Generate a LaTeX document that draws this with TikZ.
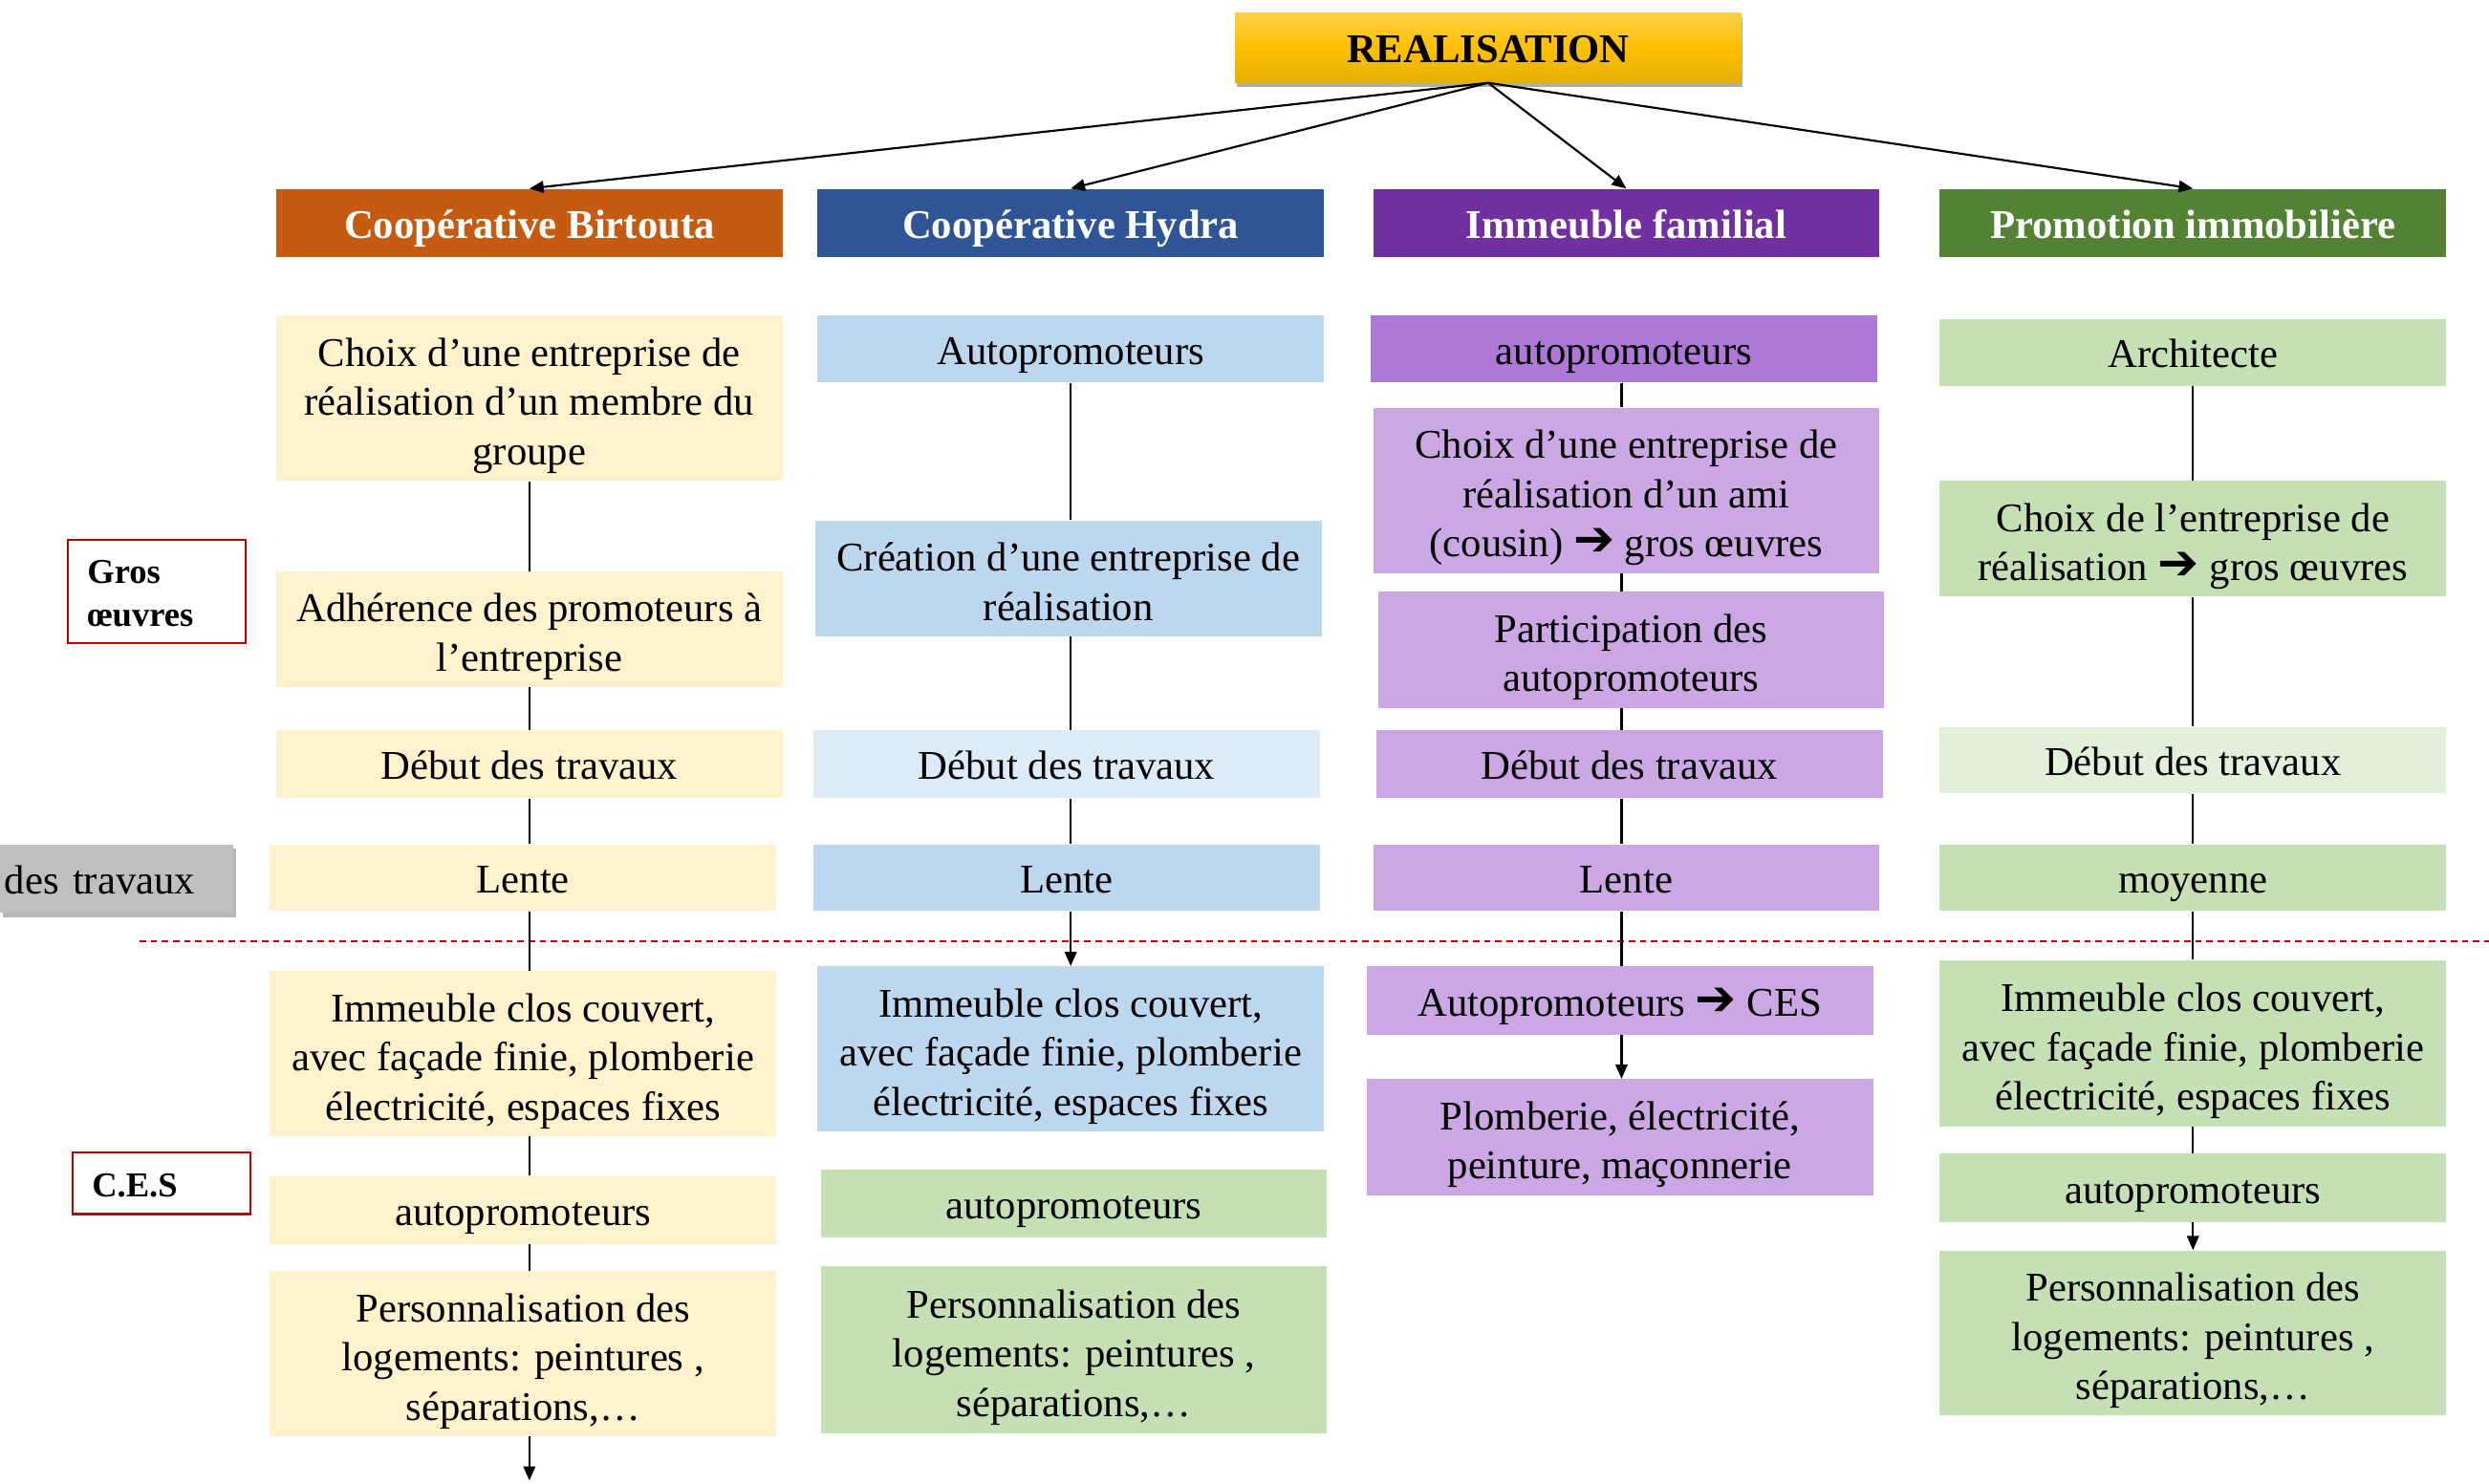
\documentclass[tikz,border=0pt]{standalone}
\usepackage{fontspec}
\setmainfont{Liberation Serif}
\newfontfamily\dingfont{DejaVu Sans Bold}
\usetikzlibrary{arrows.meta,shadows,calc}

\definecolor{goldtop}{HTML}{FFCF4A}
\definecolor{goldmid}{HTML}{FFC000}
\definecolor{goldbot}{HTML}{E6AF00}
\definecolor{hdorange}{HTML}{C55A11}
\definecolor{hdblue}{HTML}{2F5597}
\definecolor{hdpurple}{HTML}{7030A0}
\definecolor{hdgreen}{HTML}{548235}
\definecolor{cyellow}{HTML}{FFF2CC}
\definecolor{cblue}{HTML}{BDD7EE}
\definecolor{cbluelight}{HTML}{DDEBF7}
\definecolor{cpurpledark}{HTML}{AD78D6}
\definecolor{cpurple}{HTML}{CBA7E3}
\definecolor{cgreen}{HTML}{C5E0B4}
\definecolor{cgreenlight}{HTML}{E2EFDA}
\definecolor{tagred}{HTML}{C00000}
\definecolor{tabgray}{HTML}{BFBFBF}

% heavy arrow used inside the texts
\newcommand{\goes}{\raisebox{0.5pt}{\dingfont\fontsize{31}{31}\selectfont ➔}}
% struts with the ascent and descent of the serif face (plus extra leading on top)
\newcommand{\topstrut}[1]{\rule[-0.216em]{0pt}{\dimexpr1.107em+#1\relax}}
\newcommand{\lstrut}{\rule[-0.216em]{0pt}{1.107em}}
% taller first line of the multi-line boxes
\newcommand{\fs}{\rule{0pt}{\dimexpr0.891em+4.5pt\relax}}

\tikzset{
  cell/.style={inner sep=0pt, minimum width=319pt, align=center,
    font=\fontsize{25.7}{31}\selectfont, text=black,
    execute at begin node=\topstrut{2pt}, execute at end node=\lstrut},
  head/.style={cell, text=white, font=\bfseries\fontsize{25.7}{31}\selectfont,
    minimum height=43pt},
  link/.style={line width=1.3pt, black},
  flow/.style={link, -{Triangle[length=9pt,width=7.5pt]}},
  tag/.style={draw=tagred, line width=1.3pt, fill=white, inner xsep=12pt,
    inner ysep=0pt, text width=88pt, align=left,
    font=\bfseries\fontsize{22}{27}\selectfont,
    execute at begin node=\topstrut{2pt}, execute at end node=\lstrut},
}

\begin{document}
\begin{tikzpicture}[x=1pt,y=-1pt]
\useasboundingbox (0,0) rectangle (1568,935);
\fill[white] (0,0) rectangle (1568,935);
\clip (0,0) rectangle (1568,935);

% separator between the two phases
\coordinate (sepL) at (88,593);
\coordinate (sepR) at (1568,593);
\draw[tagred, line width=0.9pt, dash pattern=on 4pt off 3pt] (sepL) -- (sepR);

% title
\node[cell, minimum height=44pt, top color=goldtop, bottom color=goldbot,
  middle color=goldmid, font=\bfseries\fontsize{25.7}{31}\selectfont,
  drop shadow={shadow xshift=1pt, shadow yshift=-3pt, fill=black!45, opacity=0.7}]
  (real) at (937.5,30) {REALISATION};

% column headers
\node[head, fill=hdorange] (h1) at (333.5,140.5) {Coopérative Birtouta};
\node[head, fill=hdblue]   (h2) at (674.5,140.5) {Coopérative Hydra};
\node[head, fill=hdpurple] (h3) at (1024.5,140.5) {Immeuble familial};
\node[head, fill=hdgreen]  (h4) at (1381.5,140.5) {Promotion immobilière};

\foreach \h in {h1,h2,h3,h4} \draw[flow] (real.south) -- (\h.north);

% side labels
\node[tag, minimum height=65pt] (gros) at (99,372.5) {Gros\\œuvres};
\node[tag, minimum height=39pt] (ces) at (102,745.5) {C.E.S};
\node[cell, fill=tabgray, minimum width=147pt, minimum height=43pt,
  text width=141pt, align=left, inner xsep=3pt,
  drop shadow={shadow xshift=2pt, shadow yshift=-3pt, fill=black!40, opacity=0.7}]
  (vitesse) at (73.5,553.5) {des travaux};

% column 1: Coopérative Birtouta
\node[cell, fill=cyellow, minimum height=104pt] (a1) at (333.5,251)
  {\fs Choix d’une entreprise de\\réalisation d’un membre du\\groupe};
\node[cell, fill=cyellow, minimum height=73pt] (a2) at (333.5,396.5)
  {\fs Adhérence des promoteurs à\\l’entreprise};
\node[cell, fill=cyellow, minimum height=43pt] (a3) at (333.5,481.5) {Début des travaux};
\node[cell, fill=cyellow, minimum height=42pt] (a4) at (329.5,553) {Lente};
\node[cell, fill=cyellow, minimum height=104pt] (a5) at (329.5,664)
  {\fs Immeuble clos couvert,\\avec façade finie, plomberie\\électricité, espaces fixes};
\node[cell, fill=cyellow, minimum height=43pt] (a6) at (329.5,762.5) {autopromoteurs};
\node[cell, fill=cyellow, minimum height=104pt] (a7) at (329.5,853)
  {\fs Personnalisation des\\logements: peintures ,\\séparations,…};
\coordinate (aend) at (333.5,933);

\draw[link] (a1.south) -- (a1.south |- a2.north);
\draw[link] (a2.south) -- (a2.south |- a3.north);
\draw[link] (a3.south) -- (a3.south |- a4.north);
\draw[link] (a3.south |- a4.south) -- (a3.south |- a5.north);
\draw[link] (a3.south |- a5.south) -- (a3.south |- a6.north);
\draw[link] (a3.south |- a6.south) -- (a3.south |- a7.north);
\draw[flow] (a3.south |- a7.south) -- (aend);

% column 2: Coopérative Hydra
\node[cell, fill=cblue, minimum height=42pt] (b1) at (674.5,220) {Autopromoteurs};
\node[cell, fill=cblue, minimum height=73pt] (b2) at (673,364.5)
  {\fs Création d’une entreprise de\\réalisation};
\node[cell, fill=cbluelight, minimum height=43pt] (b3) at (672,481.5) {Début des travaux};
\node[cell, fill=cblue, minimum height=42pt] (b4) at (672,553) {Lente};
\node[cell, fill=cblue, minimum height=104pt] (b5) at (674.5,661)
  {\fs Immeuble clos couvert,\\avec façade finie, plomberie\\électricité, espaces fixes};
\node[cell, fill=cgreen, minimum height=43pt] (b6) at (676.5,758.5) {autopromoteurs};
\node[cell, fill=cgreen, minimum height=105pt] (b7) at (676.5,850.5)
  {\fs Personnalisation des\\logements: peintures ,\\séparations,…};

\draw[link] (b1.south) -- (b1.south |- b2.north);
\draw[link] (b1.south |- b2.south) -- (b1.south |- b3.north);
\draw[link] (b1.south |- b3.south) -- (b1.south |- b4.north);
\draw[flow] (b1.south |- b4.south) -- (b1.south |- b5.north);

% column 3: Immeuble familial
\node[cell, fill=cpurpledark, minimum height=42pt] (c1) at (1023,220) {autopromoteurs};
\node[cell, fill=cpurple, minimum height=104pt] (c2) at (1024.5,309)
  {\fs Choix d’une entreprise de\\réalisation d’un ami\\(cousin) \goes{} gros œuvres};
\node[cell, fill=cpurple, minimum height=73pt] (c3) at (1027.5,409.5)
  {\fs Participation des\\autopromoteurs};
\node[cell, fill=cpurple, minimum height=43pt] (c4) at (1026.5,481.5) {Début des travaux};
\node[cell, fill=cpurple, minimum height=42pt] (c5) at (1024.5,553) {Lente};
\node[cell, fill=cpurple, minimum height=43pt] (c6) at (1020.5,630.5)
  {Autopromoteurs \goes{} CES};
\node[cell, fill=cpurple, minimum height=73pt] (c7) at (1020.5,716.5)
  {\fs Plomberie, électricité,\\peinture, maçonnerie};

\coordinate (cx) at (1021.5,0);
\draw[link] (cx |- c1.south) -- (cx |- c2.north);
\draw[link] (cx |- c2.south) -- (cx |- c3.north);
\draw[link] (cx |- c3.south) -- (cx |- c4.north);
\draw[link] (cx |- c4.south) -- (cx |- c5.north);
\draw[link] (cx |- c5.south) -- (cx |- c6.north);
\draw[flow] (cx |- c6.south) -- (cx |- c7.north);

% column 4: Promotion immobilière
\node[cell, fill=cgreen, minimum height=42pt] (d1) at (1381.5,222) {Architecte};
\node[cell, fill=cgreen, minimum height=73pt] (d2) at (1381.5,339.5)
  {\fs Choix de l’entreprise de\\réalisation \goes{} gros œuvres};
\node[cell, fill=cgreenlight, minimum height=42pt] (d3) at (1381.5,479) {Début des travaux};
\node[cell, fill=cgreen, minimum height=42pt] (d4) at (1381.5,553) {moyenne};
\node[cell, fill=cgreen, minimum height=105pt] (d5) at (1381.5,657.5)
  {\fs Immeuble clos couvert,\\avec façade finie, plomberie\\électricité, espaces fixes};
\node[cell, fill=cgreen, minimum height=43pt] (d6) at (1381.5,748.5) {autopromoteurs};
\node[cell, fill=cgreen, minimum height=104pt] (d7) at (1381.5,840)
  {\fs Personnalisation des\\logements: peintures ,\\séparations,…};

\draw[link] (d1.south) -- (d2.north);
\draw[link] (d2.south) -- (d3.north);
\draw[link] (d3.south) -- (d4.north);
\draw[link] (d4.south) -- (d5.north);
\draw[link] (d5.south) -- (d6.north);
\draw[flow] (d6.south) -- (d7.north);
\end{tikzpicture}
\end{document}
